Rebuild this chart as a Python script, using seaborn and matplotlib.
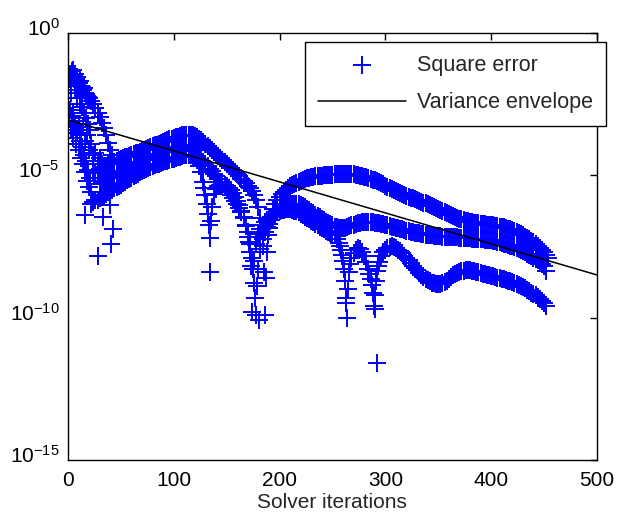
import numpy as np
import pandas as pd
import seaborn as sns
import matplotlib.pyplot as plt
from matplotlib.ticker import NullLocator, FixedLocator
from matplotlib.transforms import ScaledTranslation

# --- data: iteration number and log10 of the square error ---

# early spike right after start
spike_iter = [0, 1, 2, 3, 4, 5, 6, 7, 8, 9, 10, 11, 12, 13, 14, 15, 16, 17, 18, 19, 20,
              22, 24, 26, 28, 30, 32, 34, 36, 38, 40, 42]
spike_log = [-1.8, -1.6, -1.45, -1.5, -1.35, -1.3, -1.5, -1.45, -1.6, -1.55, -1.75, -1.7,
             -1.85, -1.9, -2.0, -1.95, -2.1, -2.15, -2.2, -2.25, -2.3,
             -2.4, -2.5, -2.65, -2.8, -2.95, -3.15, -3.35, -3.6, -3.85, -4.1, -4.3]

# early zigzag below the spike
zigzag_iter = [0, 1, 2, 3, 4, 5, 6, 7, 8, 9, 10, 11, 12, 13, 14, 15, 16, 17, 18, 19, 20, 21, 22]
zigzag_log = [-2.5, -3.0, -2.7, -3.4, -2.9, -3.7, -3.1, -3.3, -3.9, -3.5, -4.1, -3.8,
              -4.4, -4.0, -4.6, -4.3, -4.9, -4.5, -5.2, -4.8, -5.4, -5.1, -5.6]

# scattered early points between the spike and the first hump
early_iter = [3, 7, 9, 11, 13, 15, 17, 19, 21, 10, 12, 14, 16, 18, 20, 22, 24, 26, 28, 30, 32]
early_log = [-2.1, -2.0, -2.3, -2.5, -2.6, -2.8, -3.0, -3.2, -3.4,
             -3.2, -3.5, -3.3, -3.8, -3.6, -4.1, -3.9, -4.3, -4.2, -4.5, -4.4, -4.6]

# upper branch, every 2nd iteration from 24 to 454
upper_iter = np.arange(24, 455, 2)
upper_log = [
    -4.92, -4.88, -4.83, -4.78, -4.74, -4.70, -4.66, -4.62, -4.58, -4.55,
    -4.52, -4.49, -4.46, -4.43, -4.40, -4.37, -4.34, -4.31, -4.28, -4.26,
    -4.23, -4.20, -4.17, -4.13, -4.10, -4.07, -4.04, -4.01, -3.98, -3.95,
    -3.92, -3.89, -3.86, -3.83, -3.80, -3.77, -3.74, -3.72, -3.69, -3.66,
    -3.64, -3.62, -3.60, -3.58, -3.57, -3.57, -3.57, -3.59, -3.62, -3.66,
    -3.71, -3.77, -3.83, -3.89, -3.96, -4.03, -4.10, -4.17, -4.25, -4.32,
    -4.40, -4.47, -4.55, -4.62, -4.69, -4.76, -4.83, -4.90, -4.97, -5.04,
    -5.12, -5.20, -5.28, -5.36, -5.45, -5.56, -5.70, -5.85, -6.10, -6.50,
    -7.50, -9.90, -7.70, -6.85, -6.45, -6.20, -6.00, -5.86, -5.75, -5.65,
    -5.57, -5.50, -5.44, -5.39, -5.34, -5.30, -5.26, -5.22, -5.19, -5.16,
    -5.13, -5.11, -5.09, -5.07, -5.05, -5.04, -5.03, -5.02, -5.01, -5.00,
    -5.00, -4.99, -4.98, -4.98, -4.97, -4.97, -4.96, -4.96, -4.96, -4.96,
    -4.96, -4.96, -4.97, -4.97, -4.98, -4.99, -5.01, -5.03, -5.05, -5.07,
    -5.09, -5.12, -5.15, -5.18, -5.21, -5.25, -5.28, -5.32, -5.36, -5.40,
    -5.44, -5.48, -5.51, -5.55, -5.58, -5.62, -5.65, -5.69, -5.72, -5.75,
    -5.78, -5.81, -5.84, -5.87, -5.90, -5.93, -5.96, -5.99, -6.02, -6.05,
    -6.08, -6.11, -6.15, -6.18, -6.22, -6.25, -6.29, -6.32, -6.36, -6.40,
    -6.43, -6.47, -6.50, -6.53, -6.55, -6.58, -6.60, -6.62, -6.64, -6.65,
    -6.67, -6.68, -6.69, -6.70, -6.71, -6.72, -6.73, -6.74, -6.75, -6.76,
    -6.77, -6.79, -6.80, -6.82, -6.83, -6.85, -6.87, -6.89, -6.92, -6.95,
    -6.98, -7.02, -7.06, -7.10, -7.15, -7.20, -7.25, -7.30, -7.36, -7.42,
    -7.48, -7.54, -7.61, -7.70, -7.80, -7.90]

# points filling the first hump between the upper and middle branches
hump_iter = np.arange(30, 125, 2)
hump_log = [
    -5.29, -5.25, -5.20, -5.16, -5.11, -5.07, -5.03, -4.99, -4.96, -4.92,
    -4.88, -4.84, -4.80, -4.76, -4.72, -4.68, -4.65, -4.61, -4.57, -4.54,
    -4.50, -4.46, -4.43, -4.40, -4.36, -4.33, -4.30, -4.27, -4.24, -4.21,
    -4.18, -4.16, -4.13, -4.10, -4.08, -4.05, -4.02, -4.00, -3.98, -3.96,
    -3.94, -3.92, -3.92, -3.93, -3.95, -3.98, -4.02, -4.06]

# middle branch, every 2nd iteration from 22 to 452
middle_iter = np.arange(22, 453, 2)
middle_log = [
    -6.00, -5.93, -5.88, -5.85, -5.80, -5.75, -5.70, -5.65, -5.60, -5.55,
    -5.50, -5.46, -5.42, -5.37, -5.33, -5.28, -5.23, -5.18, -5.13, -5.08,
    -5.03, -4.98, -4.94, -4.90, -4.86, -4.82, -4.78, -4.75, -4.71, -4.68,
    -4.65, -4.62, -4.59, -4.56, -4.54, -4.51, -4.48, -4.46, -4.43, -4.41,
    -4.38, -4.36, -4.34, -4.31, -4.29, -4.28, -4.28, -4.29, -4.31, -4.34,
    -4.38, -4.42, -4.48, -4.54, -4.62, -4.69, -4.77, -4.86, -4.94, -5.03,
    -5.13, -5.22, -5.32, -5.41, -5.51, -5.60, -5.70, -5.80, -5.90, -6.01,
    -6.14, -6.30, -6.50, -6.73, -7.00, -7.40, -7.90, -8.80, -9.90, -8.30,
    -7.60, -7.25, -7.00, -6.82, -6.70, -6.57, -6.46, -6.37, -6.28, -6.20,
    -6.14, -6.10, -6.07, -6.04, -6.02, -6.01, -6.00, -6.00, -6.01, -6.04,
    -6.08, -6.13, -6.18, -6.23, -6.28, -6.33, -6.38, -6.43, -6.48, -6.53,
    -6.58, -6.63, -6.68, -6.72, -6.76, -6.80, -6.83, -6.85, -6.86, -6.86,
    -6.85, -6.82, -6.79, -6.76, -6.73, -6.70, -6.68, -6.66, -6.65, -6.64,
    -6.63, -6.63, -6.64, -6.65, -6.66, -6.67, -6.69, -6.70, -6.72, -6.74,
    -6.76, -6.78, -6.80, -6.82, -6.84, -6.86, -6.88, -6.90, -6.92, -6.94,
    -6.96, -6.98, -7.00, -7.01, -7.03, -7.04, -7.06, -7.07, -7.08, -7.09,
    -7.10, -7.11, -7.12, -7.13, -7.14, -7.14, -7.15, -7.15, -7.16, -7.16,
    -7.17, -7.17, -7.18, -7.18, -7.19, -7.19, -7.20, -7.20, -7.21, -7.21,
    -7.22, -7.22, -7.23, -7.23, -7.24, -7.25, -7.26, -7.27, -7.28, -7.29,
    -7.30, -7.32, -7.33, -7.35, -7.37, -7.40, -7.42, -7.45, -7.47, -7.50,
    -7.53, -7.56, -7.60, -7.63, -7.67, -7.71, -7.75, -7.80, -7.84, -7.89,
    -7.94, -7.99, -8.05, -8.11, -8.20, -8.35]

# lower branch, every 2nd iteration from 96 to 452
lower_iter = np.arange(96, 453, 2)
lower_log = [
    -4.12, -4.09, -4.06, -4.04, -4.01, -3.99, -3.98, -3.98, -3.99, -4.02,
    -4.07, -4.16, -4.30, -4.46, -4.66, -4.90, -5.25, -5.70, -6.35, -7.20,
    -6.10, -5.65, -5.48, -5.39, -5.35, -5.33, -5.34, -5.37, -5.43, -5.51,
    -5.62, -5.75, -5.90, -6.05, -6.25, -6.48, -6.78, -7.15, -7.70, -9.80,
    -8.00, -7.40, -7.05, -6.88, -6.75, -6.65, -6.57, -6.50, -6.45, -6.40,
    -6.35, -6.30, -6.26, -6.22, -6.21, -6.20, -6.20, -6.20, -6.22, -6.24,
    -6.27, -6.30, -6.35, -6.40, -6.45, -6.50, -6.55, -6.60, -6.65, -6.70,
    -6.75, -6.80, -6.85, -6.90, -6.94, -6.98, -7.01, -7.05, -7.11, -7.22,
    -7.38, -7.62, -8.00, -8.70, -10.00, -8.40, -7.92, -7.72, -7.61, -7.57,
    -7.59, -7.68, -7.83, -8.03, -8.29, -8.63, -9.15, -9.20, -8.35, -8.05,
    -7.85, -7.71, -7.62, -7.55, -7.51, -7.50, -7.52, -7.56, -7.61, -7.67,
    -7.74, -7.82, -7.90, -7.99, -8.08, -8.17, -8.26, -8.34, -8.42, -8.49,
    -8.56, -8.63, -8.69, -8.73, -8.77, -8.80, -8.82, -8.83, -8.83, -8.80,
    -8.76, -8.70, -8.63, -8.57, -8.51, -8.46, -8.42, -8.39, -8.37, -8.35,
    -8.34, -8.34, -8.34, -8.35, -8.36, -8.38, -8.40, -8.43, -8.45, -8.47,
    -8.49, -8.51, -8.53, -8.55, -8.57, -8.59, -8.61, -8.63, -8.65, -8.67,
    -8.70, -8.72, -8.75, -8.78, -8.81, -8.85, -8.89, -8.93, -8.97, -9.02,
    -9.07, -9.12, -9.17, -9.22, -9.28, -9.34, -9.40, -9.48, -9.58]

# extra points on the steep sides of the dips
dip_iter = [129, 131, 133, 135, 171, 173, 175, 177, 179, 183, 185, 187, 189,
            257, 259, 261, 263, 265, 267, 285, 287, 289, 291, 293]
dip_log = [-5.45, -6.0, -6.75, -6.6, -7.35, -8.2, -8.3, -9.3, -8.9, -6.9, -8.4, -8.6, -7.1,
           -7.5, -7.8, -8.3, -9.3, -9.0, -8.1, -8.45, -8.85, -9.6, -8.7, -8.2]

# isolated points
stray_iter = [5, 5, 5, 16, 24, 28, 33, 40, 41, 43, 134, 181, 292, 263, 290]
stray_log = [-2.8, -3.1, -3.5, -6.4, -5.95, -7.85, -6.45, -6.05, -7.4, -6.9, -8.4,
             -10.1, -11.6, -9.5, -9.7]

# variance envelope (straight line on the log axis)
envelope_iter = [0, 500]
envelope_log = [-3.05, -8.5]

assert len(upper_iter) == len(upper_log)
assert len(hump_iter) == len(hump_log)
assert len(middle_iter) == len(middle_log)
assert len(lower_iter) == len(lower_log)

iters = np.concatenate([spike_iter, zigzag_iter, early_iter, upper_iter, hump_iter,
                        middle_iter, lower_iter, dip_iter, stray_iter])
logs = np.concatenate([spike_log, zigzag_log, early_log, upper_log, hump_log,
                       middle_log, lower_log, dip_log, stray_log])
df = pd.DataFrame({"iteration": iters, "error": 10.0 ** logs})
env = pd.DataFrame({"iteration": envelope_iter, "error": 10.0 ** np.array(envelope_log)})

sns.set_style("white")
plt.rcParams["font.family"] = ["Liberation Sans", "DejaVu Sans"]
plt.rcParams["font.size"] = 15

fig = plt.figure(figsize=(6.29, 5.12), dpi=100)
ax = fig.add_axes([0.108, 0.1016, 0.841, 0.834])

sns.scatterplot(data=df, x="iteration", y="error", marker="+", s=175, color="blue",
                linewidth=1.4, ax=ax, label="Square error", zorder=2)
sns.lineplot(data=env, x="iteration", y="error", color="black", linewidth=1.1, ax=ax,
             label="Variance envelope", zorder=3)

ax.set_yscale("log")
ax.set_xlim(0, 500)
ax.set_ylim(1e-15, 1)
ax.yaxis.set_major_locator(FixedLocator([1e-15, 1e-10, 1e-5, 1]))
ax.yaxis.set_minor_locator(NullLocator())
ax.set_xticks([0, 100, 200, 300, 400, 500])
ax.tick_params(direction="in", top=True, right=True, length=5, width=1,
               labelsize=15, colors="black", pad=6)
ax.tick_params(axis="x", pad=8)
for sp in ax.spines.values():
    sp.set_color("black")
    sp.set_linewidth(1.0)

# lift the y labels a little, as the superscript labels sit in the original
lift = ScaledTranslation(0, 0.06, fig.dpi_scale_trans)
for lab in ax.get_yticklabels():
    lab.set_transform(lab.get_transform() + lift)

ax.set_xlabel("Solver iterations", fontsize=15, labelpad=2)
ax.set_ylabel("")

ax.legend(loc="upper left", bbox_to_anchor=(305 / 629, 1 - 42 / 512),
          bbox_transform=fig.transFigure, frameon=True, fancybox=False,
          edgecolor="black", framealpha=1, fontsize=15.5, scatterpoints=1,
          handlelength=4.1, handletextpad=0.52, borderpad=0.6, labelspacing=0.75,
          borderaxespad=0)

fig.savefig("out.png", dpi=100)
